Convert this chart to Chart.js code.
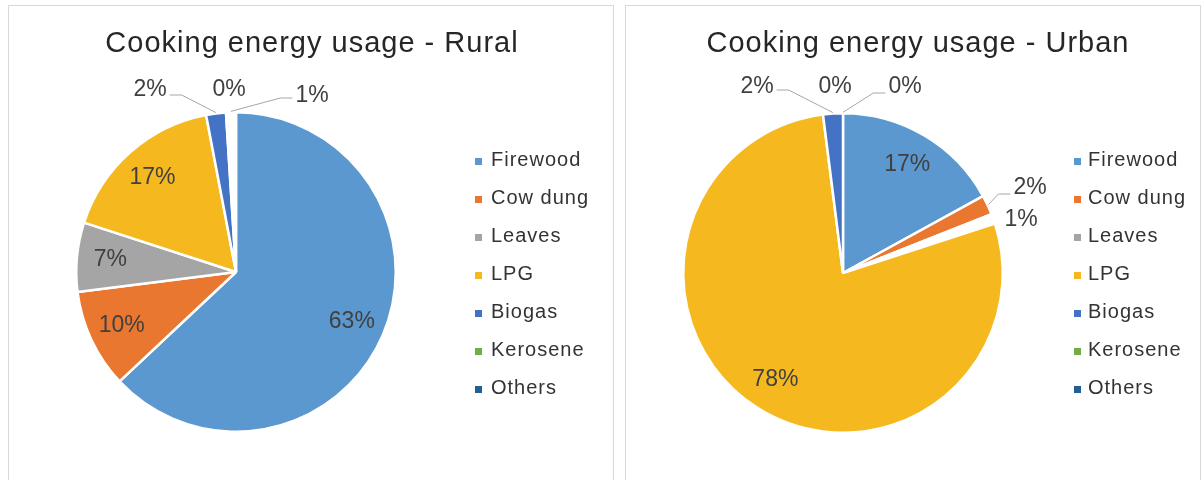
<!DOCTYPE html>
<html>
<head>
<meta charset="utf-8">
<title>Cooking energy usage</title>
<script src="https://cdn.jsdelivr.net/npm/chart.js@4.4.1/dist/chart.umd.min.js"></script>
<style>
  html, body { margin: 0; padding: 0; background: #ffffff; width: 1203px; height: 480px; overflow: hidden; }
  .panel { position: absolute; top: 5px; height: 475px; border: 1px solid #d9d9d9; background: #ffffff; }
  #ruralPanel { left: 8px; width: 604px; }
  #urbanPanel { left: 625px; width: 574px; }
  canvas { display: block; }
</style>
</head>
<body>
<div class="panel" id="ruralPanel"><canvas id="ruralChart" width="604" height="474"></canvas></div>
<div class="panel" id="urbanPanel"><canvas id="urbanChart" width="574" height="474"></canvas></div>

<script>
// Fuel categories, in the order the slices run clockwise from 12 o'clock
const categories = ['Firewood', 'Cow dung', 'Leaves', 'LPG', 'Biogas', 'Kerosene', 'Others'];

// Share of households (%) using each fuel for cooking
const ruralShares = [63, 10, 7, 17, 2, 0, 1];
const urbanShares = [17, 2, 1, 78, 2, 0, 0];

const ruralTitle = 'Cooking energy usage - Rural';
const urbanTitle = 'Cooking energy usage - Urban';

// Series colours (legend keys)
const fuelColors = ['#5B98D0', '#E9772F', '#A5A5A5', '#F5B91F', '#4472C4', '#70AD47', '#255E91'];

const FONT = '"Liberation Sans", Arial, sans-serif';

// Slice fills: the thinnest slivers show as white gaps
function sliceFills(hiddenIndex) {
  return fuelColors.map((c, i) => (i === hiddenIndex ? '#ffffff' : c));
}

// Chart heading drawn at a fixed spot above the pie
const panelTitle = {
  id: 'panelTitle',
  afterDraw(chart, args, opts) {
    const ctx = chart.ctx;
    ctx.save();
    ctx.font = '29px ' + FONT;
    ctx.letterSpacing = '1px';
    ctx.fillStyle = '#262626';
    ctx.textAlign = 'center';
    ctx.textBaseline = 'alphabetic';
    ctx.fillText(opts.text, opts.x, opts.y);
    ctx.restore();
  }
};

// Legend column to the right of the pie
const sideLegend = {
  id: 'sideLegend',
  afterDraw(chart, args, opts) {
    const ctx = chart.ctx;
    const labels = chart.data.labels;
    ctx.save();
    ctx.font = '20px ' + FONT;
    ctx.letterSpacing = '1px';
    ctx.textAlign = 'left';
    ctx.textBaseline = 'alphabetic';
    labels.forEach((name, i) => {
      const base = opts.top + i * opts.step;
      ctx.fillStyle = fuelColors[i];
      ctx.fillRect(opts.boxX, base - 8, 7, 7);
      ctx.fillStyle = '#333333';
      ctx.fillText(name, opts.textX, base);
    });
    ctx.restore();
  }
};

// Percentage labels: inside the larger slices, with leader lines for the slivers
const sliceLabels = {
  id: 'sliceLabels',
  afterDatasetsDraw(chart, args, opts) {
    const ctx = chart.ctx;
    const meta = chart.getDatasetMeta(0);
    const values = chart.data.datasets[0].data;
    ctx.save();
    ctx.font = '23px ' + FONT;
    ctx.textAlign = 'center';
    ctx.textBaseline = 'middle';
    meta.data.forEach((arc, i) => {
      const p = arc.getProps(['x', 'y', 'startAngle', 'endAngle', 'outerRadius'], true);
      const mid = (p.startAngle + p.endAngle) / 2;
      const text = values[i] + '%';
      const call = opts.callouts[i];
      if (!call) {
        const r = p.outerRadius * opts.insideRatio;
        ctx.fillStyle = '#404040';
        ctx.fillText(text, p.x + Math.cos(mid) * r, p.y + Math.sin(mid) * r);
        return;
      }
      const lx = p.x + call.dx;
      const ly = p.y + call.dy;
      if (call.side) {
        const half = ctx.measureText(text).width / 2 + 3;
        const dir = call.side === 'right' ? 1 : -1;
        const sx = lx + dir * half;
        const sy = ly + call.lineDy;
        const ex = p.x + Math.cos(mid) * (p.outerRadius + 1);
        const ey = p.y + Math.sin(mid) * (p.outerRadius + 1);
        ctx.strokeStyle = '#a6a6a6';
        ctx.lineWidth = 1;
        ctx.beginPath();
        ctx.moveTo(sx, sy);
        ctx.lineTo(sx + dir * 12, sy);
        ctx.lineTo(ex, ey);
        ctx.stroke();
      }
      ctx.fillStyle = '#404040';
      ctx.fillText(text, lx, ly);
    });
    ctx.restore();
  }
};

function makePie(canvasId, values, title, fills, place) {
  return new Chart(document.getElementById(canvasId), {
    type: 'pie',
    data: {
      labels: categories,
      datasets: [{
        data: values,
        backgroundColor: fills,
        borderColor: '#ffffff',
        borderWidth: 2.5
      }]
    },
    options: {
      responsive: false,
      animation: false,
      layout: { padding: place.padding },
      plugins: {
        legend: { display: false },
        title: { display: false },
        tooltip: { enabled: false },
        panelTitle: { text: title, x: place.titleX, y: 46 },
        sideLegend: { boxX: place.boxX, textX: place.textX, top: 160, step: 38 },
        sliceLabels: { insideRatio: 0.79, callouts: place.callouts }
      }
    },
    plugins: [panelTitle, sideLegend, sliceLabels]
  });
}

makePie('ruralChart', ruralShares, ruralTitle, sliceFills(6), {
  padding: { left: 66, right: 216, top: 105, bottom: 47 },
  titleX: 303,
  boxX: 466,
  textX: 482,
  callouts: {
    4: { dx: -86, dy: -182, side: 'right', lineDy: 5 },
    5: { dx: -7, dy: -182 },
    6: { dx: 76, dy: -176, side: 'left', lineDy: 2 }
  }
});

makePie('urbanChart', urbanShares, urbanTitle, sliceFills(2), {
  padding: { left: 56, right: 196, top: 106, bottom: 46 },
  titleX: 292,
  boxX: 448,
  textX: 462,
  callouts: {
    1: { dx: 187, dy: -85, side: 'left', lineDy: 6 },
    2: { dx: 178, dy: -53 },
    4: { dx: -86, dy: -186, side: 'right', lineDy: 3 },
    5: { dx: -8, dy: -186 },
    6: { dx: 62, dy: -186, side: 'left', lineDy: 6 }
  }
});
</script>
</body>
</html>
